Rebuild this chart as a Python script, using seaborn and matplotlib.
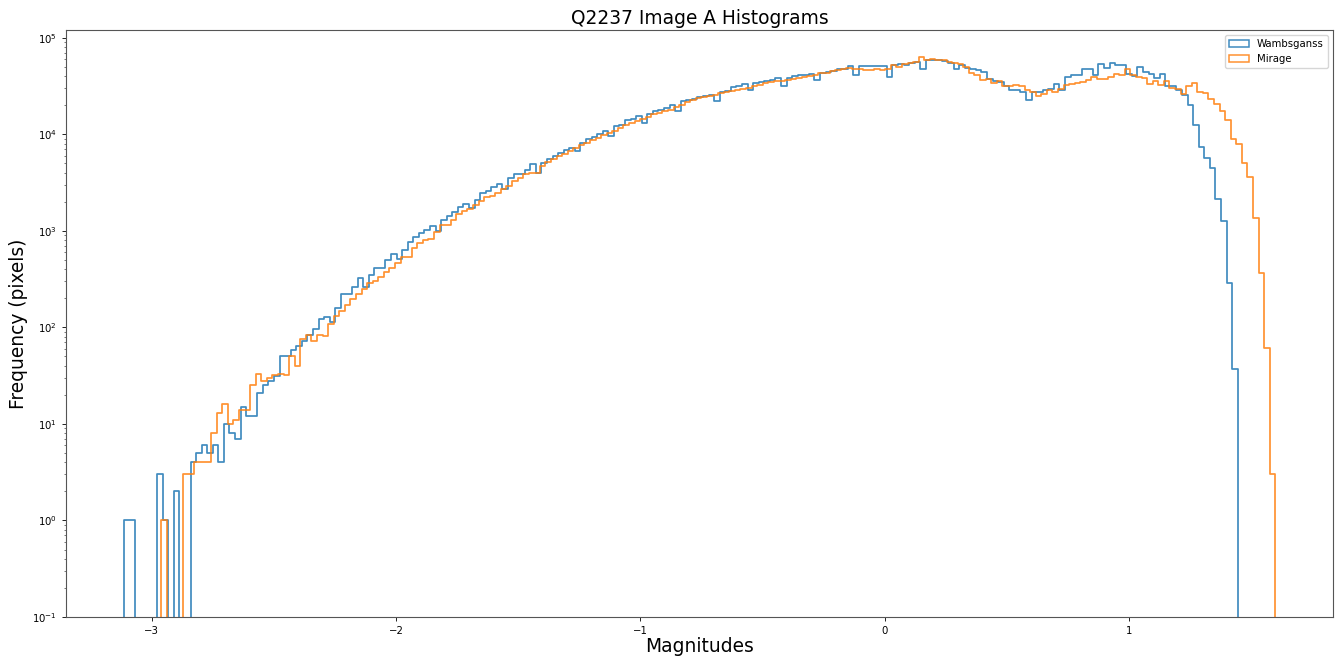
import numpy as np
import matplotlib
matplotlib.use("Agg")
import matplotlib.pyplot as plt
from matplotlib.patches import Patch
import pandas as pd
import seaborn as sns

# Histogram settings (200 equal-width bins over each series' magnitude range)
n_bins = 200
wamb_range = (-3.115, 1.445)
mirage_range = (-2.962, 1.599)

# Pixel counts per magnitude bin
wambsganss_counts = [
    1, 1, 0, 0, 0, 0, 3, 1, 0, 2,
    0, 0, 4, 5, 6, 5, 6, 4, 10, 8,
    7, 15, 12, 12, 21, 25, 28, 31, 51, 51,
    58, 64, 72, 83, 97, 121, 128, 114, 159, 219,
    219, 262, 321, 259, 347, 407, 413, 496, 569, 512,
    630, 757, 865, 951, 1030, 1124, 998, 1288, 1416, 1570,
    1770, 1900, 1714, 2100, 2490, 2570, 2850, 3040, 2680, 3480,
    3830, 3850, 4240, 4890, 4010, 5090, 5600, 6000, 6410, 6900,
    7250, 6720, 8100, 8900, 9400, 10000, 10800, 9530, 12100, 12600,
    13960, 14200, 15350, 13100, 16380, 17300, 17700, 18900, 19950, 17400,
    21970, 22500, 23400, 24300, 24900, 25300, 22100, 27400, 27900, 30900,
    31400, 33000, 29000, 34000, 34700, 35800, 36800, 37800, 31400, 38600,
    39700, 40800, 40800, 42400, 36700, 43000, 44200, 45400, 47000, 47700,
    50400, 40800, 50600, 50600, 50600, 50600, 50600, 39100, 51600, 52800,
    52400, 54700, 56400, 47000, 59200, 58300, 58300, 57000, 54700, 47000,
    52400, 48200, 47700, 46000, 44200, 37300, 35200, 34400, 31800, 29000,
    28500, 27300, 22500, 27300, 27300, 28500, 29400, 33400, 28500, 39100,
    41500, 41500, 47400, 47400, 40800, 53200, 48200, 54500, 52400, 51600,
    42400, 39900, 49400, 43800, 42400, 38500, 42400, 31800, 31300, 28500,
    25300, 19950, 12500, 7400, 5700, 4500, 2150, 1260, 285, 37,
]

mirage_counts = [
    1, 0, 0, 0, 3, 3, 4, 4, 4, 8,
    13, 16, 10, 11, 14, 14, 25, 33, 28, 30,
    32, 33, 32, 50, 40, 75, 83, 72, 84, 81,
    108, 131, 147, 170, 195, 221, 247, 285, 303, 329,
    376, 413, 466, 537, 530, 656, 740, 800, 825, 960,
    1143, 1143, 1300, 1480, 1590, 1670, 1830, 2030, 2215, 2283,
    2470, 2700, 2900, 3260, 3560, 3850, 3920, 4010, 4700, 5170,
    5600, 5920, 6300, 6720, 7200, 7700, 8160, 8810, 9200, 9800,
    10200, 10900, 11700, 12400, 13100, 13700, 14300, 15100, 16000, 16600,
    17300, 18000, 19200, 20300, 21400, 22500, 23600, 24300, 24900, 25300,
    26800, 27400, 28100, 29000, 29700, 30400, 31600, 32700, 34000, 34700,
    35400, 35800, 36500, 37500, 38500, 39100, 39900, 41200, 43000, 43500,
    44900, 45800, 47000, 48500, 47400, 47000, 46000, 45800, 47000, 46000,
    47000, 51600, 49400, 52800, 54000, 55900, 62700, 58300, 60500, 58300,
    58300, 55900, 54700, 53800, 49400, 43000, 41200, 36200, 37000, 34000,
    35300, 31800, 31800, 32600, 31400, 28500, 27300, 24900, 26300, 28500,
    27500, 29500, 32000, 33500, 34000, 35000, 36800, 39000, 37500, 37300,
    39400, 42400, 40800, 47000, 40800, 39400, 38500, 33400, 35300, 32700,
    35300, 30400, 29700, 26300, 31800, 34000, 27500, 26500, 23400, 20500,
    17300, 14000, 8950, 8000, 5000, 3600, 1340, 366, 61, 3,
]

series_names = ["Wambsganss", "Mirage"]
series_colors = ["#1f77b4", "#ff7f0e"]


def padded_bins(rng, counts):
    """Bin edges/centres with an empty bin on each side so the outline
    drops to the baseline at both ends."""
    edges = np.linspace(rng[0], rng[1], n_bins + 1)
    w = edges[1] - edges[0]
    edges = np.concatenate([[edges[0] - w], edges, [edges[-1] + w]])
    centers = 0.5 * (edges[:-1] + edges[1:])
    weights = np.concatenate([[0], np.asarray(counts, float), [0]])
    return edges.tolist(), pd.DataFrame({"mag": centers, "count": weights})


sns.set_style("ticks")
plt.rcParams["font.family"] = ["DejaVu Sans"]
plt.rcParams["text.color"] = "black"
plt.rcParams["axes.labelcolor"] = "black"

fig = plt.figure(figsize=(13.38, 6.59), dpi=100)
ax = fig.add_axes([66 / 1338, 1 - 617 / 659, (1333 - 66) / 1338, (617 - 30) / 659])

for rng, counts, color in zip([wamb_range, mirage_range],
                              [wambsganss_counts, mirage_counts],
                              series_colors):
    edges, df = padded_bins(rng, counts)
    sns.histplot(data=df, x="mag", weights="count", bins=edges, element="step",
                 fill=False, color=color, linewidth=1.25, alpha=0.85, ax=ax)

ax.set_yscale("log")
ax.set_ylim(0.1, 1.2e5)
ax.set_xlim(-3.351, 1.835)

ax.set_title("Q2237 Image A Histograms", fontsize=13.4, pad=4.5)
ax.set_xlabel("Magnitudes", fontsize=13.4, labelpad=0.5)
ax.set_ylabel("Frequency (pixels)", fontsize=13.4, labelpad=3)
ax.tick_params(axis="both", which="major", labelsize=7.3, length=3, width=0.7,
               colors="#222222", labelcolor="black")
ax.tick_params(axis="both", which="minor", length=1.8, width=0.5, colors="#444444")
for sp in ax.spines.values():
    sp.set_visible(True)
    sp.set_color("#555555")
    sp.set_linewidth(0.8)

handles = [Patch(facecolor="none", edgecolor=c, linewidth=1.1, alpha=0.85)
           for c in series_colors]
ax.legend(handles, series_names, loc="upper right", fontsize=7.3,
          frameon=True, borderaxespad=0.5, handlelength=2.0)

fig.savefig("out.png", dpi=100)
